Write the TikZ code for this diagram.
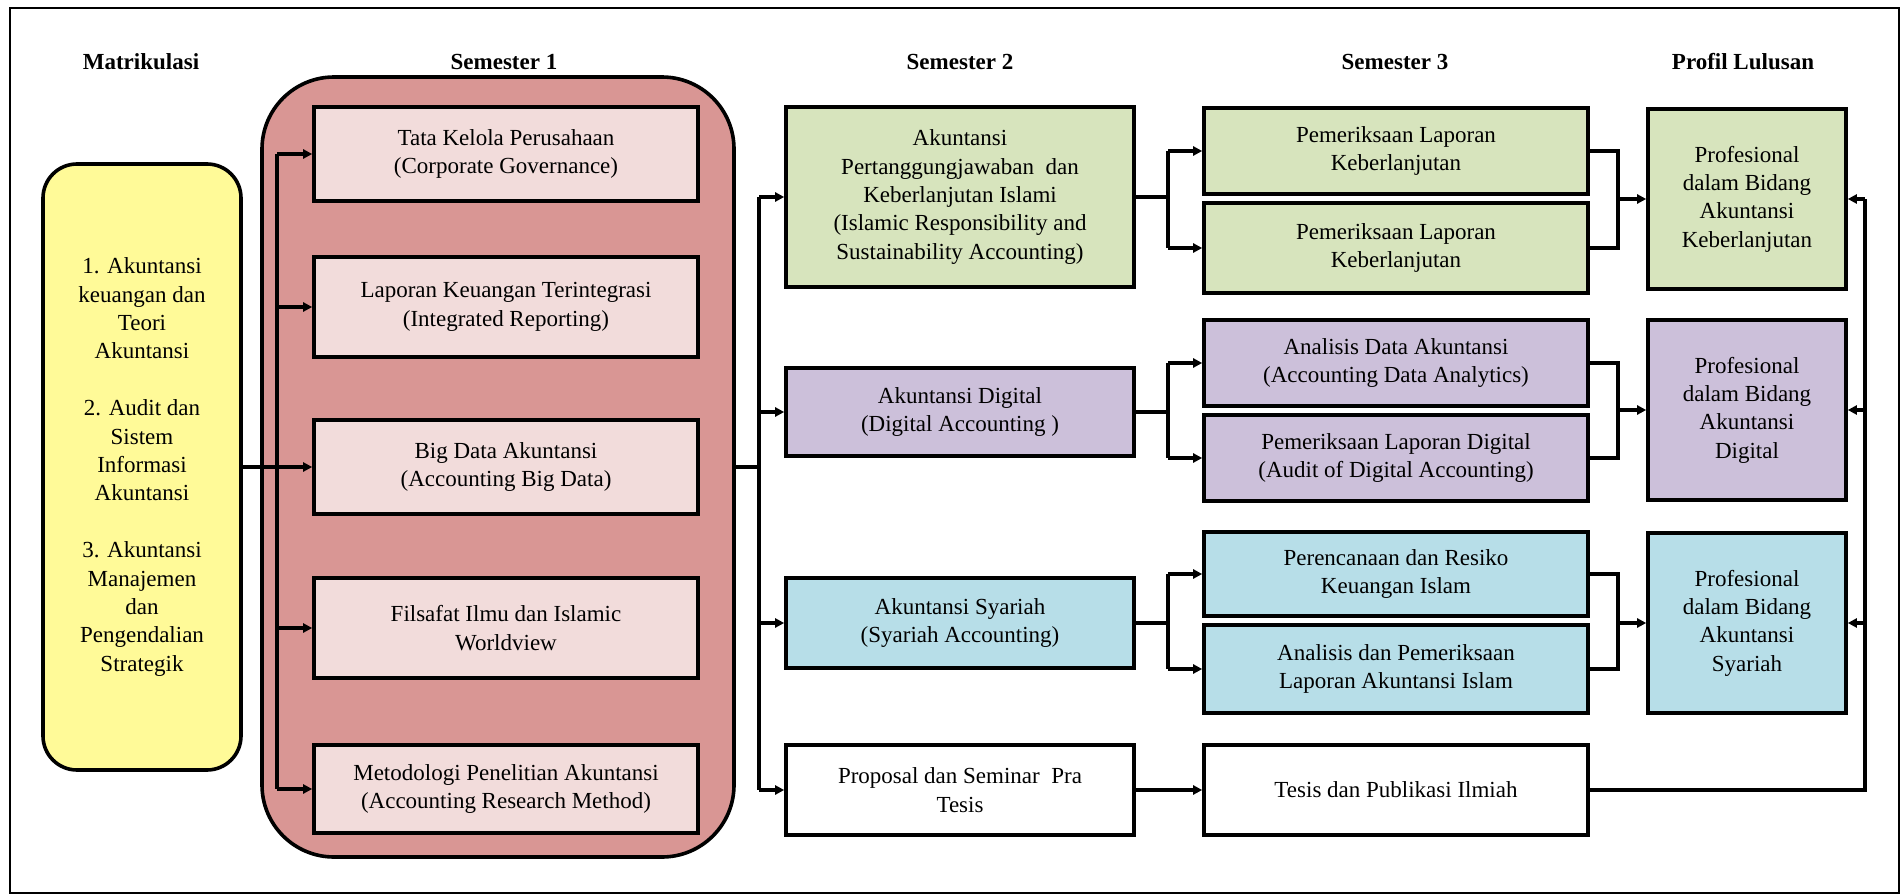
\documentclass[tikz,border=0pt]{standalone}
\usepackage{fontspec}
\setmainfont{Liberation Serif}
\usetikzlibrary{arrows.meta}

\definecolor{matyellow}{RGB}{255,250,152}
\definecolor{semred}{RGB}{217,150,148}
\definecolor{sempink}{RGB}{242,220,219}
\definecolor{susgreen}{RGB}{215,228,189}
\definecolor{digpurple}{RGB}{204,192,218}
\definecolor{syablue}{RGB}{183,222,232}

\tikzset{
  course/.style={draw, line width=1.8pt, align=center, inner sep=2pt,
    font=\fontsize{11.5}{14.2}\selectfont},
  head/.style={font=\fontsize{11.5}{14}\selectfont\bfseries},
  link/.style={line width=1.7pt},
  feed/.style={link, -{Triangle[length=4.5pt,width=4.5pt]}},
}

\begin{document}
\begin{tikzpicture}[x=0.5pt,y=-0.5pt]
  \useasboundingbox (0,0) rectangle (1902,894);
  \draw[line width=1.4pt] (10,8) rectangle (1899,893);
  % column heads
  \node[head] (hmat) at (141,62) {Matrikulasi};
  \node[head] (hsa) at (504,62) {Semester 1};
  \node[head] (hsb) at (960,62) {Semester 2};
  \node[head] (hsc) at (1395,62) {Semester 3};
  \node[head] (hpro) at (1743,62) {Profil Lulusan};
  %
  \node[course, fill=matyellow, rounded corners=17pt, minimum width=99pt,
    minimum height=303pt] (mat) at (142,467)
    {1. Akuntansi\\keuangan dan\\Teori\\Akuntansi\\[14.2pt]2. Audit dan\\Sistem\\Informasi\\Akuntansi\\[14.2pt]3. Akuntansi\\Manajemen\\dan\\Pengendalian\\Strategik};
  %
  \node[draw, line width=1.8pt, fill=semred, rounded corners=36pt,
    minimum width=236pt, minimum height=390pt] (sem1) at (498,467) {};
  \node[course, fill=sempink, minimum width=192pt, minimum height=47pt] (s1a) at (506,154)
    {Tata Kelola Perusahaan\\(Corporate Governance)};
  \node[course, fill=sempink, minimum width=192pt, minimum height=50pt] (s1b) at (506,307)
    {Laporan Keuangan Terintegrasi\\(Integrated Reporting)};
  \node[course, fill=sempink, minimum width=192pt, minimum height=47pt] (s1c) at (506,467)
    {Big Data Akuntansi\\(Accounting Big Data)};
  \node[course, fill=sempink, minimum width=192pt, minimum height=50pt] (s1d) at (506,628)
    {Filsafat Ilmu dan Islamic\\Worldview};
  \node[course, fill=sempink, minimum width=192pt, minimum height=44pt] (s1e) at (506,789)
    {Metodologi Penelitian Akuntansi\\(Accounting Research Method)};
  %
  \node[course, fill=susgreen, minimum width=174pt, minimum height=90pt] (s2a) at (960,197)
    {Akuntansi\\Pertanggungjawaban~~dan\\Keberlanjutan Islami\\(Islamic Responsibility and\\Sustainability Accounting)};
  \node[course, fill=digpurple, minimum width=174pt, minimum height=44pt] (s2b) at (960,412)
    {Akuntansi Digital\\(Digital Accounting )};
  \node[course, fill=syablue, minimum width=174pt, minimum height=45pt] (s2c) at (960,623)
    {Akuntansi Syariah\\(Syariah Accounting)};
  \node[course, minimum width=174pt, minimum height=45pt] (s2d) at (960,790)
    {Proposal dan Seminar~~Pra\\Tesis};
  %
  \node[course, fill=susgreen, minimum width=192pt, minimum height=43pt] (s3a) at (1396,151)
    {Pemeriksaan Laporan\\Keberlanjutan};
  \node[course, fill=susgreen, minimum width=192pt, minimum height=45pt] (s3b) at (1396,248)
    {Pemeriksaan Laporan\\Keberlanjutan};
  \node[course, fill=digpurple, minimum width=192pt, minimum height=43pt] (s3c) at (1396,363)
    {Analisis Data Akuntansi\\(Accounting Data Analytics)};
  \node[course, fill=digpurple, minimum width=192pt, minimum height=43pt] (s3d) at (1396,458)
    {Pemeriksaan Laporan Digital\\(Audit of Digital Accounting)};
  \node[course, fill=syablue, minimum width=192pt, minimum height=42pt] (s3e) at (1396,574)
    {Perencanaan dan Resiko\\Keuangan Islam};
  \node[course, fill=syablue, minimum width=192pt, minimum height=44pt] (s3f) at (1396,669)
    {Analisis dan Pemeriksaan\\Laporan Akuntansi Islam};
  \node[course, minimum width=192pt, minimum height=45pt] (s3g) at (1396,790)
    {Tesis dan Publikasi Ilmiah};
  %
  \node[course, fill=susgreen, minimum width=99pt, minimum height=90pt] (pa) at (1747,199)
    {Profesional\\dalam Bidang\\Akuntansi\\Keberlanjutan};
  \node[course, fill=digpurple, minimum width=99pt, minimum height=90pt] (pb) at (1747,410)
    {Profesional\\dalam Bidang\\Akuntansi\\Digital};
  \node[course, fill=syablue, minimum width=99pt, minimum height=90pt] (pc) at (1747,623)
    {Profesional\\dalam Bidang\\Akuntansi\\Syariah};
  %
  \coordinate (ja) at (277,0);
  \coordinate (jb) at (759,0);
  \coordinate (jc) at (1168,0);
  \coordinate (jd) at (1618,0);
  \coordinate (je) at (1865,0);
  % matrikulasi into semester 1
  \draw[link] (mat.east) -- (ja |- mat.east);
  \draw[link] (ja |- s1a.west) -- (ja |- s1e.west);
  \foreach \n in {s1a,s1b,s1c,s1d,s1e}
    \draw[feed] (ja |- \n.west) -- (\n.west);
  % semester 1 into semester 2
  \draw[link] (sem1.east) -- (jb |- sem1.east);
  \draw[link] (jb |- s2a.west) -- (jb |- s2d.west);
  \foreach \n in {s2a,s2b,s2c,s2d}
    \draw[feed] (jb |- \n.west) -- (\n.west);
  % semester 2 into semester 3, then profil
  \foreach \src/\up/\dn/\out in {s2a/s3a/s3b/pa,s2b/s3c/s3d/pb,s2c/s3e/s3f/pc}{
    \draw[link] (\src.east) -- (jc |- \src.east);
    \draw[link] (jc |- \up.west) -- (jc |- \dn.west);
    \draw[feed] (jc |- \up.west) -- (\up.west);
    \draw[feed] (jc |- \dn.west) -- (\dn.west);
    \draw[link] (\up.east) -- (jd |- \up.east) -- (jd |- \dn.east) -- (\dn.east);
    \draw[feed] (jd |- \out.west) -- (\out.west);
  }
  % tesis
  \draw[feed] (s2d.east) -- (s3g.west);
  \draw[link] (s3g.east) -- (je |- s3g.east) -- (je |- pa.east);
  \foreach \n in {pa,pb,pc}
    \draw[feed] (je |- \n.east) -- (\n.east);
\end{tikzpicture}
\end{document}
